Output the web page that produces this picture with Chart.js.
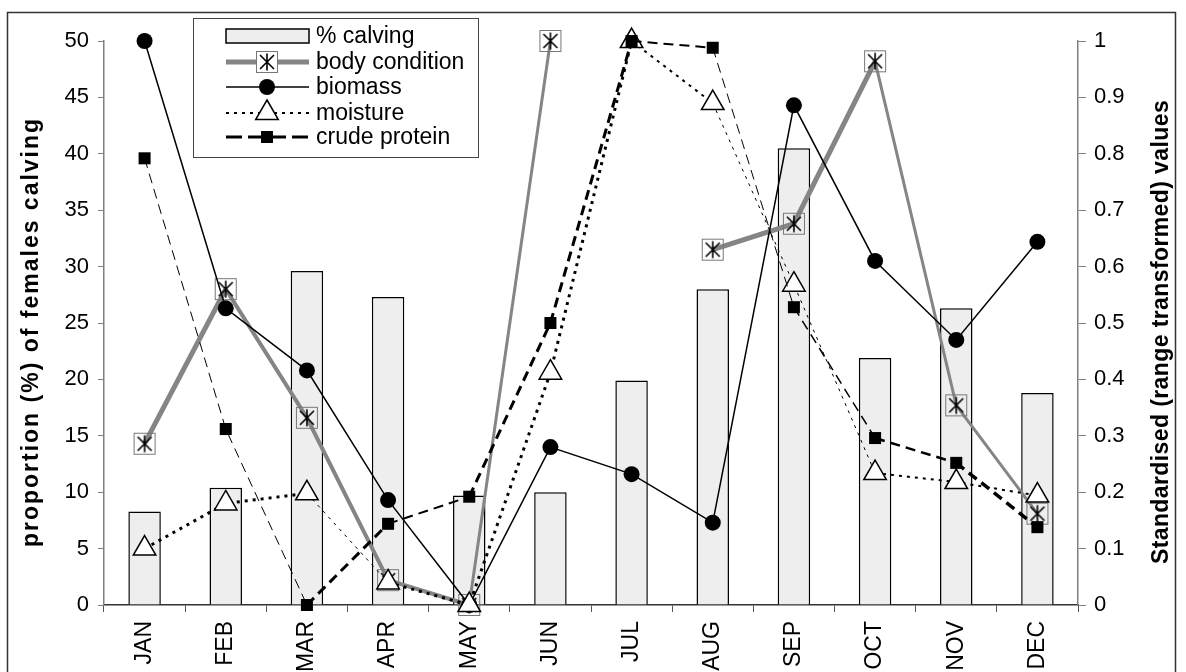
<!DOCTYPE html>
<html lang="en">
<head>
  <meta charset="UTF-8">
  <title>Calving and pasture condition by month</title>
  <script src="https://cdn.jsdelivr.net/npm/chart.js"></script>
  <style>
    body {
      margin: 0;
      background-color: white;
      font-family: Arial, 'Liberation Sans', sans-serif;
    }
    .chart-container {
      position: relative;
      width: 1186px;
      height: 672px;
    }
  </style>
</head>
<body>
  <div class="chart-container">
    <canvas id="calvingChart"></canvas>
  </div>

  <script>
    // Data
    const months = ['JAN', 'FEB', 'MAR', 'APR', 'MAY', 'JUN', 'JUL', 'AUG', 'SEP', 'OCT', 'NOV', 'DEC'];
    const calving = [8.3, 10.4, 29.6, 27.3, 9.7, 10.0, 19.9, 28.0, 40.5, 21.9, 26.3, 18.8];
    const bodyCondition = [0.286, 0.56, 0.332, 0.044, 0, 1.0, null, 0.63, 0.676, 0.964, 0.354, 0.162];
    const biomass = [1.0, 0.526, 0.416, 0.186, 0, 0.28, 0.232, 0.146, 0.886, 0.61, 0.47, 0.644];
    const moisture = [0.1, 0.18, 0.198, 0.04, 0, 0.412, 1.0, 0.89, 0.568, 0.234, 0.218, 0.194];
    const crudeProtein = [0.792, 0.312, 0, 0.144, 0.192, 0.5, 1.0, 0.988, 0.528, 0.296, 0.252, 0.138];
    const leftTicks = [0, 5, 10, 15, 20, 25, 30, 35, 40, 45, 50];
    const rightTicks = [0, 0.1, 0.2, 0.3, 0.4, 0.5, 0.6, 0.7, 0.8, 0.9, 1];

    // line widths per segment (the original has uneven strokes)
    const bodyWidths = [5, 4, 4, 4, 3, 3, 3, 5, 5, 3, 3];
    const moistureWidths = [3, 3, 1, 3, 3, 3, 2, 1, 1, 2, 2];
    const proteinWidths = [1, 1, 3, 2, 3, 3, 2, 1, 1.5, 2.5, 3.5];

    const GREY = '#858585';
    const FONT = 'Arial, "Liberation Sans", sans-serif';

    // square with asterisk marker for body condition
    function makeBoxStar() {
      const c = document.createElement('canvas');
      c.width = 24;
      c.height = 24;
      const g = c.getContext('2d');
      g.strokeStyle = '#777';
      g.lineWidth = 1;
      g.strokeRect(1.5, 1.5, 21, 21);
      g.strokeStyle = '#000';
      g.lineWidth = 1.6;
      g.beginPath();
      g.moveTo(12, 3.5); g.lineTo(12, 20.5);
      g.moveTo(5, 5); g.lineTo(19, 19);
      g.moveTo(19, 5); g.lineTo(5, 19);
      g.stroke();
      return c;
    }
    const boxStar = makeBoxStar();

    // frame round the whole figure
    const framePlugin = {
      id: 'frame',
      beforeDraw(chart) {
        const ctx = chart.ctx;
        ctx.save();
        ctx.strokeStyle = '#333';
        ctx.lineWidth = 1.5;
        ctx.strokeRect(7.5, 12.5, 1168, 700);
        ctx.restore();
      }
    };

    // both axis titles read bottom to top
    function drawTitle(ctx, text, x, y, spacing) {
      ctx.save();
      ctx.translate(x, y);
      ctx.rotate(-Math.PI / 2);
      ctx.font = 'bold 23px ' + FONT;
      ctx.letterSpacing = spacing;
      ctx.fillStyle = '#000';
      ctx.textAlign = 'center';
      ctx.textBaseline = 'middle';
      ctx.fillText(text, 0, 0);
      ctx.restore();
    }
    const titlesPlugin = {
      id: 'axisTitles',
      afterDraw(chart) {
        drawTitle(chart.ctx, 'proportion (%) of females calving', 32, 332, '2px');
        drawTitle(chart.ctx, 'Standardised (range transformed) values', 1162, 332, '0.4px');
      }
    };

    // boxed legend in the top left of the plot
    const legendPlugin = {
      id: 'boxLegend',
      afterDatasetsDraw(chart) {
        const ctx = chart.ctx;
        const x0 = 226, x1 = 309, mid = 267, tx = 316;
        const rows = [36, 62, 87, 113, 137];
        ctx.save();
        ctx.fillStyle = '#fff';
        ctx.fillRect(193, 18, 285, 139);
        ctx.strokeStyle = '#444';
        ctx.lineWidth = 1;
        ctx.strokeRect(193.5, 18.5, 285, 139);

        // % calving
        ctx.fillStyle = '#eeeeee';
        ctx.fillRect(x0, rows[0] - 7, x1 - x0, 14);
        ctx.strokeStyle = '#000';
        ctx.lineWidth = 1.5;
        ctx.strokeRect(x0, rows[0] - 7, x1 - x0, 14);

        // body condition
        ctx.strokeStyle = GREY;
        ctx.lineWidth = 5;
        ctx.beginPath();
        ctx.moveTo(x0, rows[1]); ctx.lineTo(x1, rows[1]);
        ctx.stroke();
        ctx.fillStyle = '#fff';
        ctx.fillRect(mid - 11, rows[1] - 11, 22, 22);
        ctx.drawImage(boxStar, mid - 12, rows[1] - 12);

        // biomass
        ctx.strokeStyle = '#000';
        ctx.lineWidth = 1.5;
        ctx.beginPath();
        ctx.moveTo(x0, rows[2]); ctx.lineTo(x1, rows[2]);
        ctx.stroke();
        ctx.fillStyle = '#000';
        ctx.beginPath();
        ctx.arc(mid, rows[2], 8, 0, Math.PI * 2);
        ctx.fill();

        // moisture
        ctx.setLineDash([3, 5]);
        ctx.lineWidth = 2;
        ctx.beginPath();
        ctx.moveTo(x0, rows[3]); ctx.lineTo(x1, rows[3]);
        ctx.stroke();
        ctx.setLineDash([]);
        ctx.fillStyle = '#fff';
        ctx.lineWidth = 1.5;
        ctx.beginPath();
        ctx.moveTo(mid, rows[3] - 13);
        ctx.lineTo(mid + 11.3, rows[3] + 6.5);
        ctx.lineTo(mid - 11.3, rows[3] + 6.5);
        ctx.closePath();
        ctx.fill();
        ctx.stroke();

        // crude protein
        ctx.setLineDash([16, 6]);
        ctx.lineWidth = 3;
        ctx.beginPath();
        ctx.moveTo(x0, rows[4]); ctx.lineTo(x1, rows[4]);
        ctx.stroke();
        ctx.setLineDash([]);
        ctx.fillStyle = '#000';
        ctx.fillRect(mid - 6, rows[4] - 6, 12, 12);

        // labels
        ctx.font = '23px ' + FONT;
        ctx.fillStyle = '#000';
        ctx.textBaseline = 'middle';
        const names = ['% calving', 'body condition', 'biomass', 'moisture', 'crude protein'];
        names.forEach((n, i) => ctx.fillText(n, tx, rows[i] + 1));
        ctx.restore();
      }
    };

    const tickFont = { family: FONT, size: 22 };

    new Chart(document.getElementById('calvingChart'), {
      data: {
        labels: months,
        datasets: [
          {
            type: 'line',
            label: 'crude protein',
            data: crudeProtein,
            yAxisID: 'y1',
            order: 1,
            borderColor: '#000',
            borderDash: [10, 6],
            segment: { borderWidth: ctx => proteinWidths[ctx.p0DataIndex] },
            pointStyle: 'rect',
            pointRadius: 8.5,
            pointBackgroundColor: '#000',
            pointBorderColor: '#000',
            pointBorderWidth: 0,
            tension: 0,
            clip: false
          },
          {
            type: 'line',
            label: 'moisture',
            data: moisture,
            yAxisID: 'y1',
            order: 2,
            borderColor: '#000',
            borderDash: [3, 5],
            segment: { borderWidth: ctx => moistureWidths[ctx.p0DataIndex] },
            pointStyle: 'triangle',
            pointRadius: 13,
            pointBackgroundColor: '#fff',
            pointBorderColor: '#000',
            pointBorderWidth: 1.5,
            tension: 0,
            clip: false
          },
          {
            type: 'line',
            label: 'biomass',
            data: biomass,
            yAxisID: 'y1',
            order: 3,
            borderColor: '#000',
            borderWidth: 1.5,
            pointStyle: 'circle',
            pointRadius: 8,
            pointBackgroundColor: '#000',
            pointBorderColor: '#000',
            pointBorderWidth: 0,
            tension: 0,
            clip: false
          },
          {
            type: 'line',
            label: 'body condition',
            data: bodyCondition,
            yAxisID: 'y1',
            order: 4,
            borderColor: GREY,
            segment: { borderWidth: ctx => bodyWidths[ctx.p0DataIndex] },
            spanGaps: false,
            pointStyle: boxStar,
            tension: 0,
            clip: false
          },
          {
            type: 'bar',
            label: '% calving',
            data: calving,
            yAxisID: 'y',
            order: 5,
            backgroundColor: '#eeeeee',
            borderColor: '#000',
            borderWidth: 1.5,
            categoryPercentage: 1,
            barPercentage: 0.4
          }
        ]
      },
      options: {
        responsive: true,
        maintainAspectRatio: false,
        animation: false,
        layout: { padding: { top: 41, left: 0, right: 0, bottom: 0 } },
        plugins: {
          legend: { display: false },
          tooltip: { enabled: false }
        },
        scales: {
          x: {
            offset: true,
            grid: { offset: true, drawOnChartArea: false, tickLength: 7, color: '#555' },
            border: { color: '#333', width: 1.5 },
            ticks: {
              minRotation: 90,
              maxRotation: 90,
              padding: 9,
              color: '#000',
              font: { family: FONT, size: 23 }
            },
            afterFit(scale) { scale.height = 67; }
          },
          y: {
            position: 'left',
            min: 0,
            max: 50,
            afterBuildTicks(scale) { scale.ticks = leftTicks.map(v => ({ value: v })); },
            grid: { drawOnChartArea: false, tickLength: 6, color: '#808080' },
            border: { color: '#808080', width: 1.5 },
            ticks: { color: '#000', padding: 9, font: tickFont },
            afterFit(scale) { scale.width = 104; }
          },
          y1: {
            position: 'right',
            min: 0,
            max: 1,
            afterBuildTicks(scale) { scale.ticks = rightTicks.map(v => ({ value: v })); },
            grid: { drawOnChartArea: false, tickLength: 8, color: '#808080' },
            border: { color: '#808080', width: 1.5 },
            ticks: {
              color: '#000',
              padding: 8,
              font: tickFont,
              callback: v => String(Math.round(v * 10) / 10)
            },
            afterFit(scale) { scale.width = 108; }
          }
        }
      },
      plugins: [framePlugin, legendPlugin, titlesPlugin]
    });
  </script>
</body>
</html>
